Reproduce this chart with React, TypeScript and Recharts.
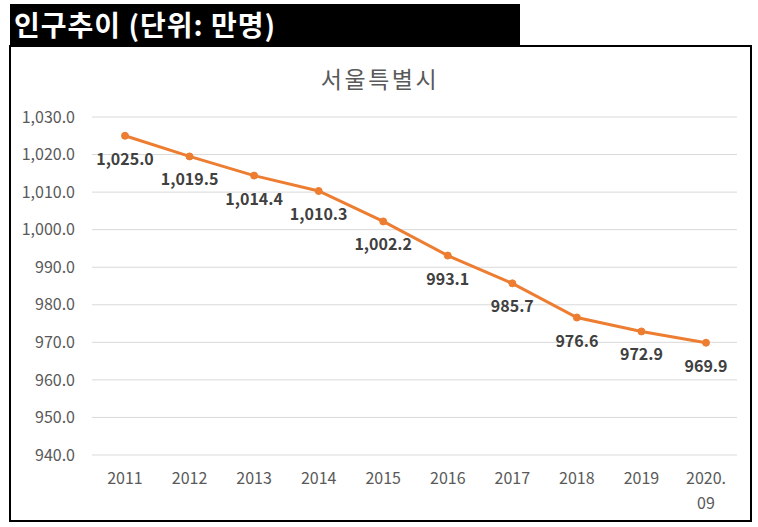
import { LineChart, Line, XAxis, YAxis, CartesianGrid, LabelList } from 'recharts';

const years = ['2011', '2012', '2013', '2014', '2015', '2016', '2017', '2018', '2019', '2020.09'];
const population = [1025.0, 1019.5, 1014.4, 1010.3, 1002.2, 993.1, 985.7, 976.6, 972.9, 969.9];
const yTicks = [940, 950, 960, 970, 980, 990, 1000, 1010, 1020, 1030];

const data = years.map((year, i) => ({ year, value: population[i] }));

const FONT = "'Noto Sans CJK KR', 'Noto Sans', sans-serif";
const ORANGE = '#ED7D31';

const fmt = (v: number) =>
    v.toLocaleString('en-US', { minimumFractionDigits: 1, maximumFractionDigits: 1 });

// splits "2020.09" into "2020." / "09" like the original wrapped label
const YearTick = (props: any) => {
    const { x, y, payload } = props;
    const label: string = payload.value;
    const dot = label.indexOf('.');
    const lines = dot >= 0 ? [label.slice(0, dot + 1), label.slice(dot + 1)] : [label];
    return (
        <g>
            {lines.map((line, i) => (
                <text
                    key={i}
                    x={x}
                    y={y + 29 + i * 25}
                    textAnchor="middle"
                    fill="#595959"
                    fontSize={16}
                    fontFamily={FONT}
                >
                    {line}
                </text>
            ))}
        </g>
    );
};

const ValueLabel = (props: any) => {
    const { x, y, value } = props;
    return (
        <text
            x={x}
            y={y + 29}
            textAnchor="middle"
            fill="#404040"
            fontSize={16}
            fontWeight="bold"
            fontFamily={FONT}
        >
            {fmt(value)}
        </text>
    );
};

const App = () => {
    return (
        <div
            style={{
                position: 'absolute',
                left: 0,
                top: 0,
                width: 758,
                height: 527,
                background: '#fff',
                fontFamily: FONT,
                overflow: 'hidden',
            }}
        >
            <div
                style={{
                    position: 'absolute',
                    left: 10,
                    top: 4,
                    width: 510,
                    height: 42,
                    background: '#000',
                    color: '#fff',
                    fontWeight: 'bold',
                    fontSize: 28,
                    letterSpacing: 1,
                    lineHeight: '41px',
                    paddingLeft: 4,
                    boxSizing: 'border-box',
                    whiteSpace: 'nowrap',
                }}
            >
                인구추이 (단위: 만명)
            </div>

            <div
                style={{
                    position: 'absolute',
                    left: 9,
                    top: 45,
                    width: 743,
                    height: 477,
                    border: '2px solid #000',
                    boxSizing: 'border-box',
                }}
            />

            <div
                style={{
                    position: 'absolute',
                    left: 280,
                    top: 66,
                    width: 200,
                    height: 24,
                    lineHeight: '24px',
                    textAlign: 'center',
                    fontSize: 23,
                    letterSpacing: 2.5,
                    color: '#595959',
                }}
            >
                서울특별시
            </div>

            <div style={{ position: 'absolute', left: 0, top: 0 }}>
                <LineChart
                    width={758}
                    height={527}
                    data={data}
                    margin={{ top: 117, right: 21, left: 0, bottom: 0 }}
                >
                    <CartesianGrid vertical={false} stroke="#d9d9d9" strokeWidth={1} />
                    <XAxis
                        dataKey="year"
                        height={72}
                        axisLine={false}
                        tickLine={false}
                        tickSize={0}
                        tickMargin={0}
                        interval={0}
                        padding={{ left: 33, right: 31 }}
                        tick={<YearTick />}
                    />
                    <YAxis
                        width={92}
                        domain={[940, 1030]}
                        ticks={yTicks}
                        axisLine={false}
                        tickLine={false}
                        tickSize={0}
                        tickMargin={17}
                        tickFormatter={fmt}
                        tick={{ fill: '#595959', fontSize: 16, fontFamily: FONT }}
                    />
                    <Line
                        type="linear"
                        dataKey="value"
                        stroke={ORANGE}
                        strokeWidth={3}
                        dot={{ r: 3.5, fill: ORANGE, stroke: ORANGE, strokeWidth: 1 }}
                        isAnimationActive={false}
                    >
                        <LabelList dataKey="value" content={<ValueLabel />} />
                    </Line>
                </LineChart>
            </div>
        </div>
    );
};

export default App;
